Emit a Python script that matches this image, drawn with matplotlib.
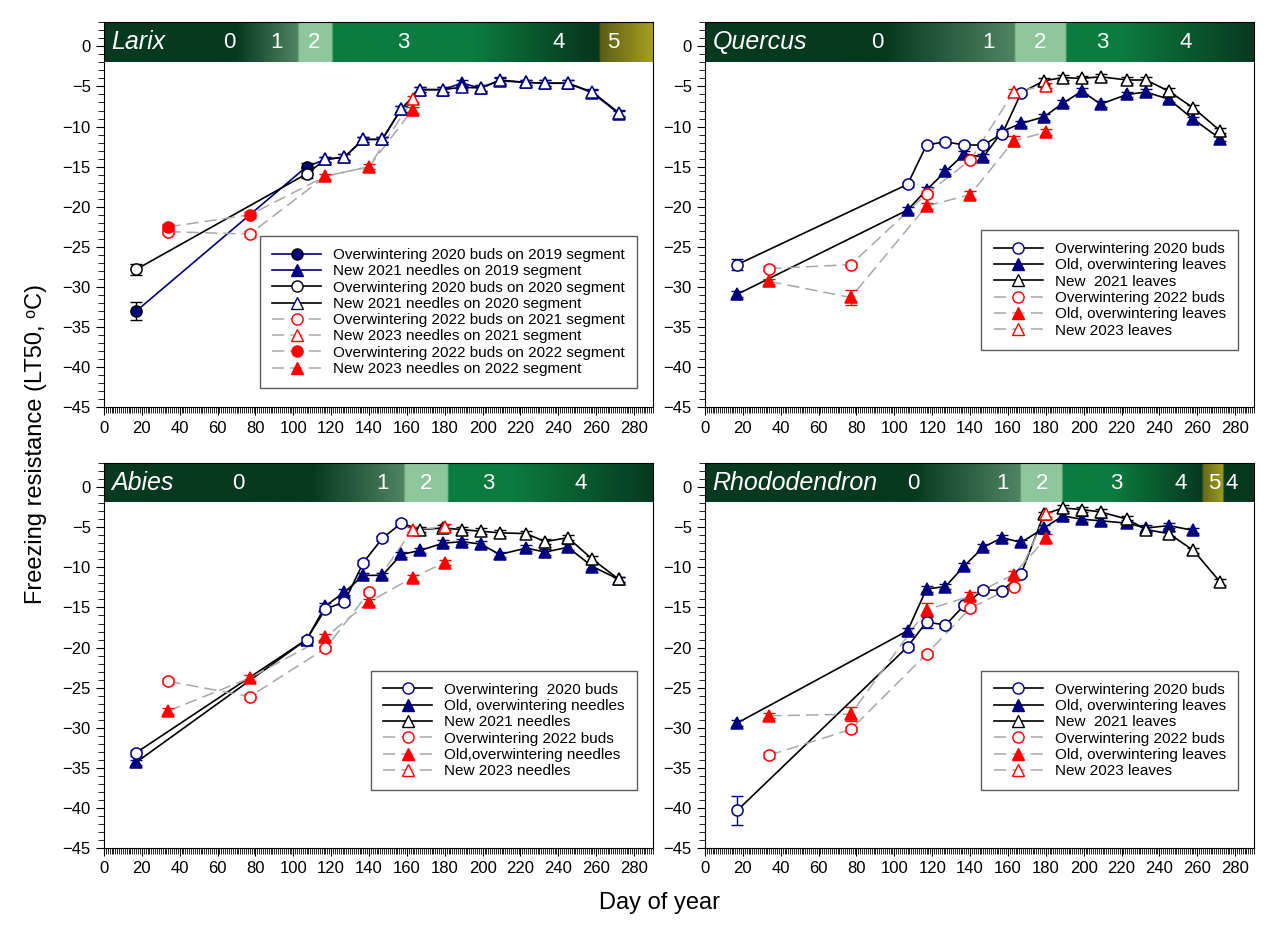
import numpy as np
import matplotlib.pyplot as plt
from matplotlib.lines import Line2D
from matplotlib.colors import to_rgb
from matplotlib.ticker import MultipleLocator

plt.rcParams['font.family'] = ['Liberation Sans', 'DejaVu Sans']

NAVY = '#000080'
RED = '#ff0000'
GREY = '#a8a8a8'

# ---------------- Larix ----------------
lar_buds19_x = [17, 107]
lar_buds19_y = [-33.0, -15.0]
lar_buds19_e = [1.1, 0.4]
lar_new19_x = [117, 127, 137, 147, 157, 167, 179, 189, 199, 209, 223, 233, 245, 258, 272]
lar_new19_y = [-14.1, -13.8, -11.6, -11.6, -7.8, -5.4, -5.4, -4.6, -5.2, -4.3, -4.5, -4.6, -4.6, -5.8, -8.4]
lar_buds20_x = [17, 107]
lar_buds20_y = [-27.8, -15.9]
lar_buds20_e = [0.7, 0.5]
lar_new20_x = lar_new19_x
lar_new20_y = [-14.1, -13.8, -11.6, -11.6, -7.8, -5.4, -5.4, -5.1, -5.2, -4.2, -4.5, -4.6, -4.6, -5.7, -8.3]
lar_buds21_x = [34, 77]
lar_buds21_y = [-23.1, -23.4]
lar_new21_x = [163]
lar_new21_y = [-6.6]
lar_buds22_x = [34, 77]
lar_buds22_y = [-22.5, -21.0]
lar_new22_x = [117, 140, 163]
lar_new22_y = [-16.2, -15.0, -7.9]

# ---------------- Quercus ----------------
que_buds20_x = [17, 107, 117, 127, 137, 147, 157, 167]
que_buds20_y = [-27.2, -17.2, -12.3, -11.9, -12.3, -12.3, -10.9, -5.8]
que_old_x = [17, 107, 117, 127, 137, 147, 157, 167, 179, 189, 199, 209, 223, 233, 245, 258, 272]
que_old_y = [-30.9, -20.4, -17.9, -15.6, -13.4, -13.8, -10.6, -9.6, -8.8, -7.1, -5.6, -7.2, -6.0, -5.7, -6.6, -9.1, -11.5]
que_new21_x = [179, 189, 199, 209, 223, 233, 245, 258, 272]
que_new21_y = [-4.3, -3.9, -4.0, -3.8, -4.2, -4.2, -5.6, -7.7, -10.5]
que_buds22_x = [34, 77, 117, 140]
que_buds22_y = [-27.7, -27.2, -18.4, -14.2]
que_old22_x = [34, 77, 117, 140, 163, 180]
que_old22_y = [-29.3, -31.3, -19.9, -18.5, -11.8, -10.7]
que_new23_x = [163, 180]
que_new23_y = [-5.7, -4.9]

# ---------------- Abies ----------------
abi_buds20_x = [17, 107, 117, 127, 137, 147, 157]
abi_buds20_y = [-33.1, -19.0, -15.2, -14.3, -9.4, -6.4, -4.5]
abi_old_x = [17, 107, 117, 127, 137, 147, 157, 167, 179, 189, 199, 209, 223, 233, 245, 258, 272]
abi_old_y = [-34.3, -19.0, -14.8, -13.1, -11.0, -11.0, -8.4, -7.9, -7.0, -6.8, -7.1, -8.4, -7.6, -8.1, -7.5, -9.9, -11.5]
abi_new21_x = [167, 179, 189, 199, 209, 223, 233, 245, 258, 272]
abi_new21_y = [-5.3, -5.1, -5.3, -5.5, -5.7, -5.8, -6.8, -6.3, -9.0, -11.5]
abi_buds22_x = [34, 77, 117, 140]
abi_buds22_y = [-24.2, -26.1, -20.1, -13.1]
abi_old22_x = [34, 77, 117, 140, 163, 180]
abi_old22_y = [-27.9, -23.8, -18.7, -14.3, -11.3, -9.4]
abi_new23_x = [163, 180]
abi_new23_y = [-5.3, -5.0]

# ---------------- Rhododendron ----------------
rho_buds20_x = [17, 107, 117, 127, 137, 147, 157, 167]
rho_buds20_y = [-40.3, -19.9, -16.8, -17.2, -14.7, -12.8, -12.9, -10.8]
rho_buds20_e = [1.8, 0.4, 0.7, 0.3, 0.3, 0.3, 0.3, 0.3]
rho_old_x = [17, 107, 117, 127, 137, 147, 157, 167, 179, 189, 199, 209, 223, 233, 245, 258]
rho_old_y = [-29.4, -17.9, -12.7, -12.4, -9.8, -7.5, -6.3, -6.9, -5.1, -3.6, -4.0, -4.2, -4.5, -5.1, -4.8, -5.4]
rho_new21_x = [179, 189, 199, 209, 223, 233, 245, 258, 272]
rho_new21_y = [-3.4, -2.6, -2.8, -3.1, -4.0, -5.3, -5.8, -7.9, -11.8]
rho_buds22_x = [34, 77, 117, 140, 163]
rho_buds22_y = [-33.4, -30.2, -20.8, -15.1, -12.4]
rho_old22_x = [34, 77, 117, 140, 163, 180]
rho_old22_y = [-28.5, -28.3, -15.3, -13.6, -10.9, -6.4]
rho_old22_e = [0.3, 0.9, 0.9, 0.5, 0.5, 0.5]
rho_new23_x = [180]
rho_new23_y = [-3.4]

# phenology band: stage numbers and colour stops (day, colour)
DK, MID, LT, GR = '#07391f', '#4f8463', '#8ec79c', '#0b7c3f'
lar_stage = [('0', 66), ('1', 91), ('2', 111), ('3', 158), ('4', 240), ('5', 269)]
lar_stops = [(0, DK), (70, DK), (102, MID), (103, LT), (120, LT), (121, GR), (195, GR), (255, DK), (261, DK), (262, '#5c5e18'), (290, '#a8a020')]
que_stage = [('0', 91), ('1', 150), ('2', 177), ('3', 210), ('4', 254)]
que_stops = [(0, DK), (95, DK), (163, MID), (164, LT), (190, LT), (191, GR), (220, GR), (290, DK)]
abi_stage = [('0', 71), ('1', 147), ('2', 170), ('3', 203), ('4', 252)]
abi_stops = [(0, DK), (110, DK), (158, MID), (159, LT), (181, LT), (182, GR), (215, GR), (290, DK)]
rho_stage = [('0', 110), ('1', 157), ('2', 178), ('3', 217), ('4', 251), ('5', 269), ('4', 278)]
rho_stops = [(0, DK), (110, DK), (166, MID), (167, LT), (188, LT), (189, GR), (215, GR), (262, DK), (263, '#6a6a1a'), (273, '#9a9a22'), (274, DK), (290, DK)]


def band(ax, name, stages, stops):
    days = np.linspace(0, 290, 1161)
    xs = [s[0] for s in stops]
    cols = np.array([to_rgb(s[1]) for s in stops])
    img = np.stack([np.interp(days, xs, cols[:, k]) for k in range(3)], axis=-1)[None, :, :]
    ax.imshow(img, extent=(0, 290, -1.9, 3), aspect='auto', zorder=1)
    ax.text(4, 0.5, name, color='white', style='italic', fontsize=18, va='center', zorder=2)
    for lab, d in stages:
        ax.text(d, 0.5, lab, color='white', fontsize=16, ha='center', va='center', zorder=2)


def series(ax, x, y, marker, mfc, mec, err=0.35):
    ax.errorbar(x, y, yerr=err, fmt='none', ecolor=mec, elinewidth=1, capsize=4, zorder=4)
    ax.plot(x, y, ls='none', marker=marker, ms=8, mfc=mfc, mec=mec, mew=1.1, zorder=5)


def line(ax, x, y, color, dashed=False):
    if dashed:
        ax.plot(x, y, color=GREY, lw=1.1, dashes=(8, 4), zorder=3)
    else:
        ax.plot(x, y, color=color, lw=1.2, zorder=3)


def setup(ax):
    ax.set_xlim(0, 290)
    ax.set_ylim(-45, 3)
    ax.xaxis.set_minor_locator(MultipleLocator(1))
    ax.yaxis.set_minor_locator(MultipleLocator(1))
    ax.set_xticks(range(0, 281, 20))
    ax.set_yticks(range(-45, 1, 5))
    ax.tick_params(which='major', direction='out', length=6, labelsize=12)
    ax.tick_params(which='minor', direction='out', length=4)


def leg_handle(marker, mfc, mec, color, dashed=False):
    if dashed:
        return Line2D([], [], color=GREY, lw=1.1, dashes=(8, 4), marker=marker, ms=8, mfc=mfc, mec=mec)
    return Line2D([], [], color=color, lw=1.2, marker=marker, ms=8, mfc=mfc, mec=mec)


fig = plt.figure(figsize=(12.68, 9.26), dpi=100)
W, H = 0.433, 0.416
ax1 = fig.add_axes([0.082, 0.560, W, H])
ax2 = fig.add_axes([0.556, 0.560, W, H])
ax3 = fig.add_axes([0.082, 0.084, W, H])
ax4 = fig.add_axes([0.556, 0.084, W, H])
for a in (ax1, ax2, ax3, ax4):
    setup(a)

# Larix
band(ax1, 'Larix', lar_stage, lar_stops)
line(ax1, lar_buds19_x + lar_new19_x[:1], lar_buds19_y + lar_new19_y[:1], NAVY)
line(ax1, lar_new19_x, lar_new19_y, NAVY)
line(ax1, lar_buds20_x + lar_new20_x, lar_buds20_y + lar_new20_y, 'black')
line(ax1, lar_buds21_x + lar_new22_x, lar_buds21_y + lar_new22_y, GREY, True)
line(ax1, lar_buds22_x + lar_new22_x[:2] + lar_new21_x, lar_buds22_y + lar_new22_y[:2] + lar_new21_y, GREY, True)
series(ax1, lar_buds19_x, lar_buds19_y, 'o', NAVY, 'black', lar_buds19_e)
series(ax1, lar_new19_x, lar_new19_y, '^', NAVY, NAVY)
series(ax1, lar_buds20_x, lar_buds20_y, 'o', 'white', 'black', lar_buds20_e)
series(ax1, lar_new20_x, lar_new20_y, '^', 'white', NAVY)
series(ax1, lar_buds21_x, lar_buds21_y, 'o', 'white', RED)
series(ax1, lar_new22_x, lar_new22_y, '^', RED, RED)
series(ax1, lar_buds22_x, lar_buds22_y, 'o', RED, RED)
series(ax1, lar_new21_x, lar_new21_y, '^', 'white', RED)
ax1.legend(handles=[leg_handle('o', NAVY, 'black', NAVY), leg_handle('^', NAVY, NAVY, NAVY),
                    leg_handle('o', 'white', 'black', 'black'), leg_handle('^', 'white', NAVY, 'black'),
                    leg_handle('o', 'white', RED, GREY, True), leg_handle('^', 'white', RED, GREY, True),
                    leg_handle('o', RED, RED, GREY, True), leg_handle('^', RED, RED, GREY, True)],
           labels=['Overwintering 2020 buds on 2019 segment', 'New 2021 needles on 2019 segment',
                   'Overwintering 2020 buds on 2020 segment', 'New 2021 needles on 2020 segment',
                   'Overwintering 2022 buds on 2021 segment', 'New 2023 needles on 2021 segment',
                   'Overwintering 2022 buds on 2022 segment', 'New 2023 needles on 2022 segment'],
           loc='lower right', fontsize=11, frameon=True, fancybox=False, edgecolor='#333333',
           handlelength=3.2, labelspacing=0.15, borderpad=0.8, bbox_to_anchor=(0.985, 0.03))


def standard(ax, name, stages, stops, b20x, b20y, oldx, oldy, n21x, n21y, b22x, b22y, o22x, o22y, n23x, n23y,
             labels, b20e=0.35, o22e=0.35):
    band(ax, name, stages, stops)
    line(ax, b20x + n21x[:1], b20y + n21y[:1], 'black')
    line(ax, oldx, oldy, 'black')
    line(ax, n21x, n21y, 'black')
    line(ax, b22x + n23x, b22y + n23y, GREY, True)
    line(ax, o22x, o22y, GREY, True)
    series(ax, oldx, oldy, '^', NAVY, NAVY)
    series(ax, n21x, n21y, '^', 'white', 'black')
    series(ax, b20x, b20y, 'o', 'white', NAVY, b20e)
    series(ax, o22x, o22y, '^', RED, RED, o22e)
    series(ax, b22x, b22y, 'o', 'white', RED)
    series(ax, n23x, n23y, '^', 'white', RED)
    ax.legend(handles=[leg_handle('o', 'white', NAVY, 'black'), leg_handle('^', NAVY, NAVY, 'black'),
                       leg_handle('^', 'white', 'black', 'black'), leg_handle('o', 'white', RED, GREY, True),
                       leg_handle('^', RED, RED, GREY, True), leg_handle('^', 'white', RED, GREY, True)],
              labels=labels, loc='lower right', fontsize=11, frameon=True, fancybox=False,
              edgecolor='#333333', handlelength=3.2, labelspacing=0.15, borderpad=0.8,
              bbox_to_anchor=(0.985, 0.13))


standard(ax2, 'Quercus', que_stage, que_stops, que_buds20_x, que_buds20_y, que_old_x, que_old_y,
         que_new21_x, que_new21_y, que_buds22_x, que_buds22_y, que_old22_x, que_old22_y, que_new23_x, que_new23_y,
         ['Overwintering 2020 buds', 'Old, overwintering leaves', 'New  2021 leaves',
          'Overwintering 2022 buds', 'Old, overwintering leaves', 'New 2023 leaves'],
         b20e=[0.7] + [0.3] * 7, o22e=[0.3, 0.9, 0.4, 0.5, 0.6, 0.4])
standard(ax3, 'Abies', abi_stage, abi_stops, abi_buds20_x, abi_buds20_y, abi_old_x, abi_old_y,
         abi_new21_x, abi_new21_y, abi_buds22_x, abi_buds22_y, abi_old22_x, abi_old22_y, abi_new23_x, abi_new23_y,
         ['Overwintering  2020 buds', 'Old, overwintering needles', 'New 2021 needles',
          'Overwintering 2022 buds', 'Old,overwintering needles', 'New 2023 needles'])
standard(ax4, 'Rhododendron', rho_stage, rho_stops, rho_buds20_x, rho_buds20_y, rho_old_x, rho_old_y,
         rho_new21_x, rho_new21_y, rho_buds22_x, rho_buds22_y, rho_old22_x, rho_old22_y, rho_new23_x, rho_new23_y,
         ['Overwintering 2020 buds', 'Old, overwintering leaves', 'New  2021 leaves',
          'Overwintering 2022 buds', 'Old, overwintering leaves', 'New 2023 leaves'],
         b20e=rho_buds20_e, o22e=rho_old22_e)

fig.text(0.028, 0.52, 'Freezing resistance (LT50, ᵒC)', rotation=90, fontsize=17, ha='center', va='center')
fig.text(0.52, 0.025, 'Day of year', fontsize=17, ha='center', va='center')

fig.savefig('out.png', dpi=100)
